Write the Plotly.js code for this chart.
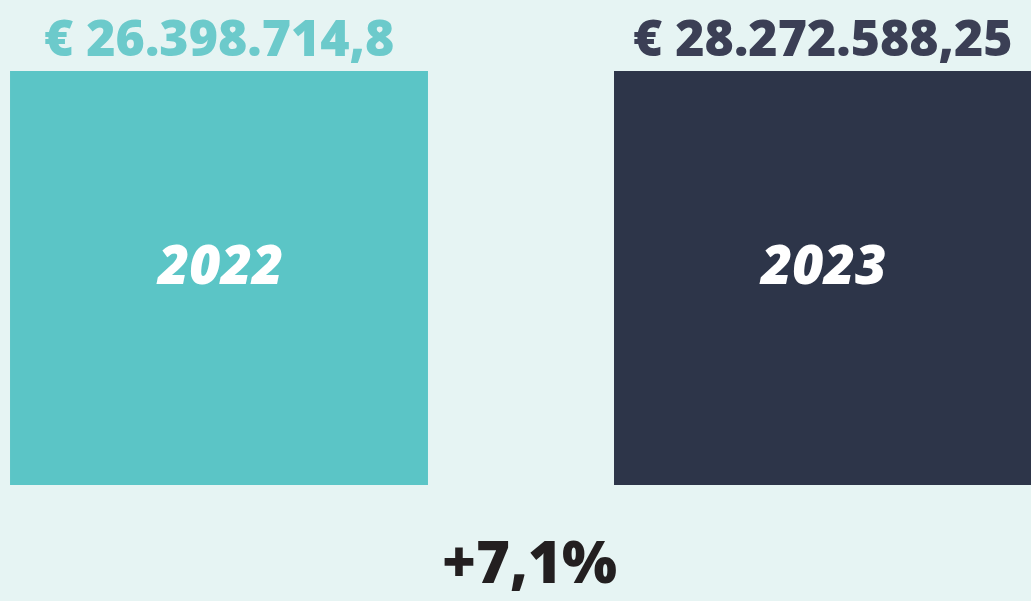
<!DOCTYPE html>
<html>
<head>
<meta charset="utf-8">
<script src="https://cdn.plot.ly/plotly-3.0.1.min.js"></script>
<style>html,body{margin:0;padding:0;background:#E6F4F3;}#chart{width:1031px;height:601px;}</style>
</head>
<body>
<div id="chart"></div>
<script>
const years = ['2022', '2023'];
const amounts = [26398714.8, 28272588.25];
const amountLabels = ['€ 26.398.714,8', '€ 28.272.588,25'];
const boxHeights = [1, 1];
const changeLabel = '+7,1%';

const barColors = ['#5BC5C6', '#2D3549'];
const labelColors = ['#6CCACB', '#3B3F55'];
const xPos = [0, 1];

const FONT = 'Open Sans, Noto Sans, sans-serif';

const trace = {
  type: 'bar',
  x: xPos,
  y: boxHeights,
  width: 0.692,
  marker: {color: barColors, line: {width: 0}},
  hoverinfo: 'skip',
  customdata: amounts
};

const annotations = [];
years.forEach((yr, i) => {
  annotations.push({
    x: xPos[i], y: boxHeights[i], xref: 'x', yref: 'y',
    text: amountLabels[i], showarrow: false,
    yanchor: 'middle', yshift: 34,
    font: {family: FONT, size: 50, weight: 800, color: labelColors[i]}
  });
  annotations.push({
    x: xPos[i], y: boxHeights[i] / 2, xref: 'x', yref: 'y',
    text: '<i>' + yr + '</i>', showarrow: false,
    yanchor: 'middle', yshift: 15,
    font: {family: FONT, size: 54, weight: 800, color: '#FFFFFF'}
  });
});
annotations.push({
  x: 529 / 1031, y: 0.067, xref: 'paper', yref: 'paper',
  text: changeLabel, showarrow: false, yanchor: 'middle',
  font: {family: FONT, size: 58, weight: 800, color: '#231F20'}
});

const layout = {
  width: 1031, height: 601,
  margin: {l: 0, r: 0, t: 0, b: 0, pad: 0},
  paper_bgcolor: '#E6F4F3', plot_bgcolor: '#E6F4F3',
  showlegend: false,
  xaxis: {range: [-0.3626, 1.3444], visible: false, fixedrange: true},
  yaxis: {range: [-0.2802, 1.1715], visible: false, fixedrange: true},
  annotations: annotations
};

Plotly.newPlot('chart', [trace], layout, {displayModeBar: false, staticPlot: true});
</script>
</body>
</html>
